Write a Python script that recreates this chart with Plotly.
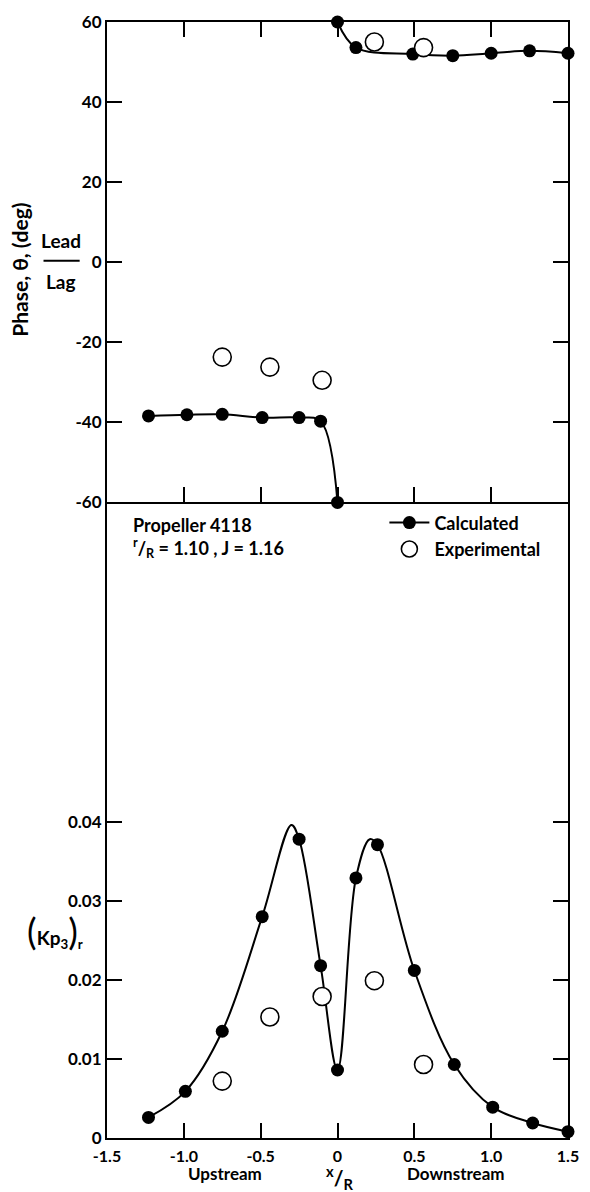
import plotly.graph_objects as go

# ---- Phase of the pressure signal (deg), propeller 4118 ----
x_calc_up = [-1.23, -0.98, -0.75, -0.49, -0.25, -0.11, 0.0]
phase_calc_up = [-38.4, -38.1, -38.0, -38.8, -38.8, -39.7, -60.0]
x_calc_down = [0.0, 0.12, 0.49, 0.75, 1.0, 1.25, 1.5]
phase_calc_down = [60.0, 53.6, 52.0, 51.6, 52.2, 52.8, 52.2]
x_exp = [-0.75, -0.44, -0.10, 0.24, 0.56]
phase_exp = [-23.7, -26.2, -29.5, 55.0, 53.6]

# ---- Pressure amplitude (Kp3)r ----
x_kp_calc = [-1.23, -0.99, -0.75, -0.49, -0.25, -0.11, 0.0, 0.12, 0.26, 0.50, 0.76, 1.01, 1.27, 1.5]
kp_calc = [0.0026, 0.0059, 0.0135, 0.0280, 0.0378, 0.0218, 0.0086, 0.0329, 0.0371, 0.0212, 0.0093, 0.0039, 0.0019, 0.0008]
kp_exp = [0.0072, 0.0153, 0.0179, 0.0199, 0.0093]
# crests of the faired calculated curve
x_kp_peak = [-0.30, 0.21]
kp_peak = [0.0396, 0.0378]

phase_ticks = [60, 40, 20, 0, -20, -40, -60]
kp_ticks = [0, 0.01, 0.02, 0.03, 0.04]
kp_tick_text = ["0", "0.01", "0.02", "0.03", "0.04"]
x_ticks = [-1.5, -1.0, -0.5, 0, 0.5, 1.0, 1.5]
x_tick_text = ["-1.5", "-1.0", "-0.5", "0", "0.5", "1.0", "1.5"]

# faired curve = calculated points plus crest points, in x order
curve = sorted(zip(x_kp_calc + x_kp_peak, kp_calc + kp_peak))
curve_x = [c[0] for c in curve]
curve_y = [c[1] for c in curve]

W, H = 590, 1192
L, R, T, B = 107, 11, 16, 54
PW, PH = W - L - R, H - T - B
split = 499  # pixel row of the shared boundary between panels
top_frac = (split - T) / PH


def px(xp):
    return (xp - L) / PW


def py(yp):
    return (H - B - yp) / PH


FONT = "Lato"
INK = "black"
calc_marker = dict(size=13, color=INK)
exp_marker = dict(size=18, color="white", symbol="circle", line=dict(color=INK, width=1.6))
line_style = dict(color=INK, width=2, shape="spline", smoothing=1.0)

fig = go.Figure()

# upper panel: phase
fig.add_trace(go.Scatter(x=x_calc_up, y=phase_calc_up, mode="lines+markers", line=line_style,
                         marker=calc_marker, xaxis="x", yaxis="y", showlegend=False, cliponaxis=False))
fig.add_trace(go.Scatter(x=x_calc_down, y=phase_calc_down, mode="lines+markers", line=line_style,
                         marker=calc_marker, xaxis="x", yaxis="y", showlegend=False, cliponaxis=False))
fig.add_trace(go.Scatter(x=x_exp, y=phase_exp, mode="markers", marker=exp_marker,
                         xaxis="x", yaxis="y", showlegend=False, cliponaxis=False))

# lower panel: amplitude
fig.add_trace(go.Scatter(x=curve_x, y=curve_y, mode="lines", line=line_style,
                         xaxis="x2", yaxis="y2", showlegend=False, hoverinfo="skip"))
fig.add_trace(go.Scatter(x=x_kp_calc, y=kp_calc, mode="markers", marker=calc_marker,
                         xaxis="x2", yaxis="y2", showlegend=False, cliponaxis=False))
fig.add_trace(go.Scatter(x=x_exp, y=kp_exp, mode="markers", marker=exp_marker,
                         xaxis="x2", yaxis="y2", showlegend=False, cliponaxis=False))

# legend entries
fig.add_trace(go.Scatter(x=[None], y=[None], mode="lines+markers", name="Calculated",
                         line=dict(color=INK, width=2), marker=calc_marker, xaxis="x2", yaxis="y2"))
fig.add_trace(go.Scatter(x=[None], y=[None], mode="markers", name="Experimental",
                         marker=exp_marker, xaxis="x2", yaxis="y2"))

tickfont = dict(family=FONT, size=17, color=INK, weight="bold")
axis_common = dict(showline=True, linecolor=INK, linewidth=2, ticks="inside", ticklen=15,
                   tickwidth=1.5, tickcolor=INK, showgrid=False, zeroline=False, tickfont=tickfont)

fig.update_layout(
    width=W, height=H,
    margin=dict(l=L, r=R, t=T, b=B),
    paper_bgcolor="white", plot_bgcolor="white",
    xaxis=dict(axis_common, domain=[0, 1], anchor="y", range=[-1.5, 1.5], mirror="ticks",
               tickvals=[-1.0, -0.5, 0, 0.5, 1.0], showticklabels=False),
    yaxis=dict(axis_common, domain=[1 - top_frac, 1], anchor="x", range=[-60, 60], mirror="ticks",
               tickvals=phase_ticks, ticktext=[str(v) for v in phase_ticks]),
    xaxis2=dict(axis_common, domain=[0, 1], anchor="y2", range=[-1.5, 1.5], mirror=False,
                tickvals=x_ticks, ticktext=x_tick_text, ticklabelstandoff=3,
                tickfont=dict(tickfont, size=16)),
    yaxis2=dict(axis_common, domain=[0, 1 - top_frac], anchor="x2", range=[0, 0.0804], mirror="ticks",
                tickvals=kp_ticks, ticktext=kp_tick_text),
    showlegend=True,
    legend=dict(x=px(391), y=py(501), xanchor="left", yanchor="top",
                font=dict(family=FONT, size=18, color=INK, weight="bold"),
                bgcolor="rgba(0,0,0,0)", tracegroupgap=0, itemwidth=40),
)

ann_font = dict(family=FONT, size=18, color=INK, weight="bold")
annotations = [
    dict(x=px(18), y=py(265), text="Phase, θ, (deg)", textangle=-90, font=dict(ann_font, size=21)),
    dict(x=px(60), y=py(236), text="Lead", font=dict(ann_font, size=19)),
    dict(x=px(60), y=py(277), text="Lag", font=dict(ann_font, size=19)),
    dict(x=px(132), y=py(522), text="Propeller 4118", xanchor="left"),
    dict(x=px(132), y=py(545), text="<sup>r</sup>/<sub>R</sub> = 1.10 , J = 1.16", xanchor="left"),
    dict(x=px(228), y=py(1174), text="Upstream", font=dict(ann_font, size=17)),
    dict(x=px(464), y=py(1174), text="Downstream", font=dict(ann_font, size=17)),
    dict(x=px(345), y=py(1178), text="<sup>x</sup>/<sub>R</sub>", font=dict(ann_font, size=21)),
    dict(x=px(54), y=py(930),
         text="<span style='font-size:36px;font-weight:normal'>(</span>Kp<sub>3</sub>"
              "<span style='font-size:36px;font-weight:normal'>)</span><sub>r</sub>",
         font=dict(ann_font, size=19)),
]
fig.update_layout(annotations=[dict({"xanchor": "center", "yanchor": "middle", "font": ann_font, **a},
                                    xref="paper", yref="paper", showarrow=False)
                               for a in annotations])

# fraction bar between "Lead" and "Lag"
fig.add_shape(type="line", xref="paper", yref="paper", x0=px(42), x1=px(79), y0=py(256), y1=py(256),
              line=dict(color=INK, width=2))

fig.write_html("out.html")
